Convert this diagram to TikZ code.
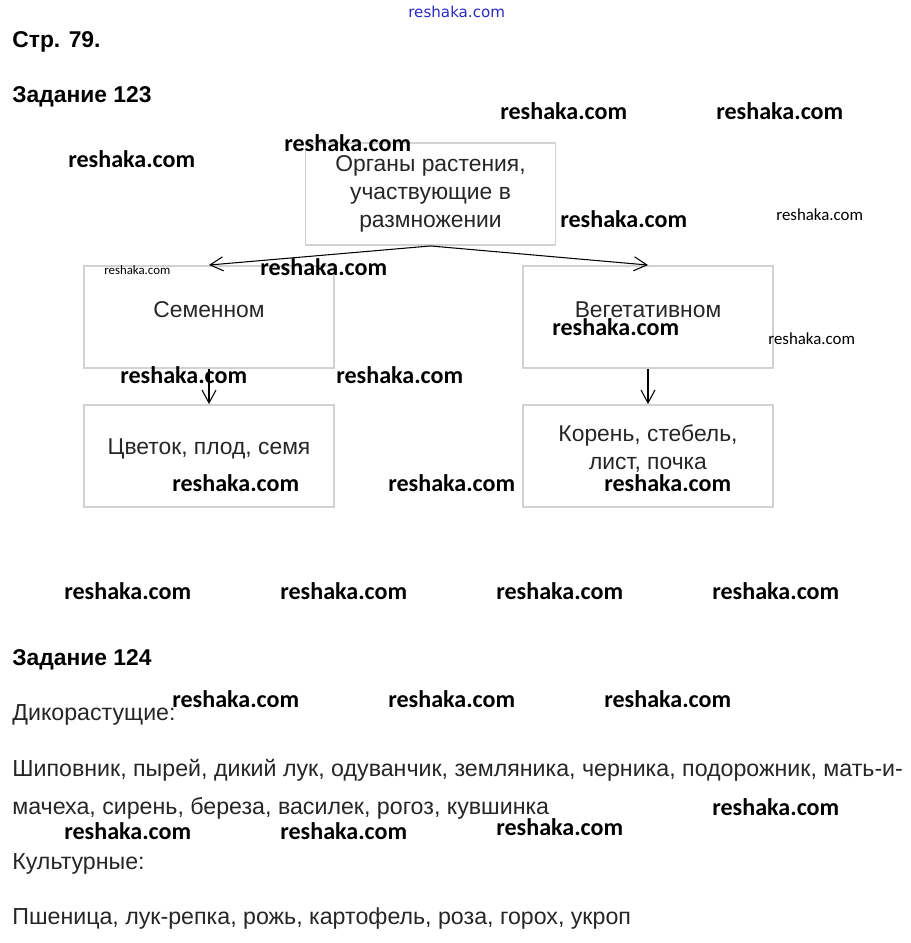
\documentclass[tikz,border=0pt]{standalone}
\usepackage{fontspec}
\setmainfont{Liberation Sans}
\newfontfamily\wmfont{Carlito}
\newfontfamily\topmarkfont{DejaVu Sans}
\usetikzlibrary{arrows.meta, positioning}
\definecolor{boxgray}{HTML}{D2D2D2}
\definecolor{markblue}{HTML}{2A2AC8}
\tikzset{
  orgbox/.style={rectangle, draw=boxgray, line width=1.1pt, minimum width=5cm,
                 minimum height=2.04cm, inner sep=0pt},
  boxtext/.style={align=center, inner sep=0pt, text=black!85,
                  font=\fontsize{13}{15.9}\selectfont},
  plaintext/.style={anchor=west, inner sep=0pt, text=black!85,
                    font=\fontsize{13.2}{15}\selectfont},
  headtext/.style={anchor=west, inner sep=0pt, font=\fontsize{13}{15}\selectfont\bfseries},
  wm/.style={anchor=west, inner sep=0pt, font=\wmfont\fontsize{13.7}{15}\selectfont\bfseries},
  wmsmall/.style={anchor=west, inner sep=0pt, font=\wmfont\fontsize{#1}{10}\selectfont},
  arr/.style={-{Straight Barb[length=7.4pt,width=8pt]}, line width=0.6pt},
}

\begin{document}
\begin{tikzpicture}[x=0.02cm, y=-0.02cm]
\useasboundingbox[fill=white] (0,0) rectangle (911,943);

\node[headtext] (page) at (12,42) {Стр. 79.};
\node[headtext] (task1) at (12,97) {Задание 123};

\node[orgbox] (orgBox) at (430.5,194) {};
\node[orgbox] (semBox) at (209,317) {};
\node[orgbox] (vegBox) at (648,317) {};
\node[orgbox] (cvBox) at (209,456) {};
\node[orgbox] (korBox) at (648,456) {};

\node[boxtext] (orgText) at (430.5,194) {Органы растения,\\участвующие в\\размножении};
\node[boxtext] (semText) at (209,310) {Семенном};
\node[boxtext] (vegText) at (648,310) {Вегетативном};
\node[boxtext] (cvText) at (209,449) {Цветок, плод, семя};
\node[boxtext] (korText) at (648,449) {Корень, стебель,\\лист, почка};

\draw[arr] (orgBox.south) -- (semBox.north);
\draw[arr] (orgBox.south) -- (vegBox.north);
\draw[arr] (semBox.south) -- (cvBox.north);
\draw[arr] (vegBox.south) -- (korBox.north);

\node[headtext] (task2) at (12,660) {Задание 124};
\node[plaintext] (wild) at (12,715) {Дикорастущие:};
\node[plaintext] (wildA) at (12,770) {Шиповник, пырей, дикий лук, одуванчик, земляника, черника, подорожник, мать-и-};
\node[plaintext] (wildB) at (12,808) {мачеха, сирень, береза, василек, рогоз, кувшинка};
\node[plaintext] (crop) at (12,864) {Культурные:};
\node[plaintext] (cropA) at (12,918) {Пшеница, лук-репка, рожь, картофель, роза, горох, укроп};

\node[anchor=west, inner sep=0pt, text=markblue, font=\topmarkfont\fontsize{8.6}{10}\selectfont]
  (topmark) at (408,12) {reshaka.com};
\node[wmsmall=9.6] (wmA) at (776,215) {reshaka.com};
\node[wmsmall=9.6] (wmB) at (768,339) {reshaka.com};
\node[wmsmall=7.3] (wmC) at (104,270) {reshaka.com};
\foreach \x/\y [count=\i] in {500/111, 716/111, 284/143, 68/159, 560/219, 260/267,
    552/327, 120/375, 336/375, 172/483, 388/483, 604/483, 64/591, 280/591,
    496/591, 712/591, 172/699, 388/699, 604/699, 712/807, 64/831, 280/831, 496/827}
  \node[wm] (wm\i) at (\x,\y) {reshaka.com};
\end{tikzpicture}
\end{document}
